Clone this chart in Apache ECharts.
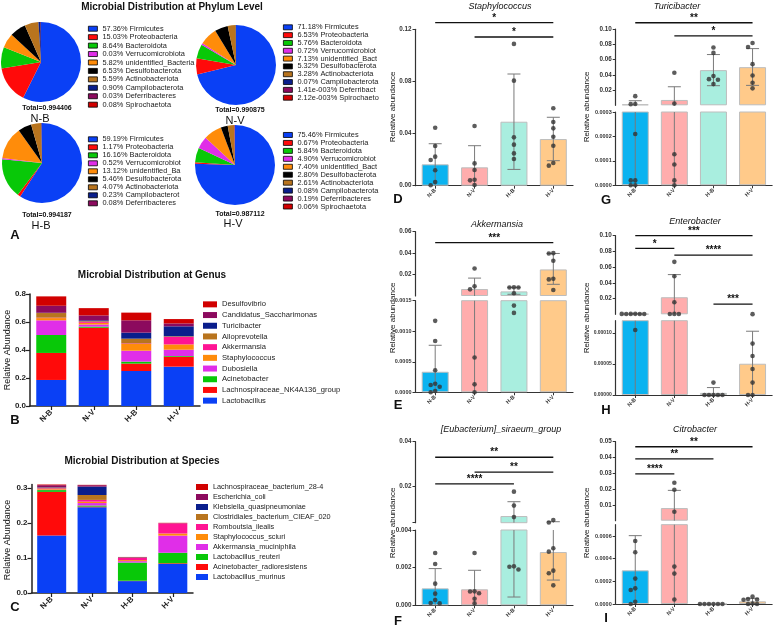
<!DOCTYPE html>
<html>
<head>
<meta charset="utf-8">
<script src="https://cdn.jsdelivr.net/npm/echarts@6/dist/echarts.min.js"></script>
<style>
  html, body { margin: 0; padding: 0; background: #fff; }
  #main { width: 779px; height: 627px; }
</style>
</head>
<body>
<div id="main"></div>
<script>
const FONT = '"Liberation Sans", Arial, sans-serif';
const groups = ['N-B', 'N-V', 'H-B', 'H-V'];

// ---- A: phylum level, percent of reads
const phyla = ['Firmicutes', 'Proteobacteria', 'Bacteroidota', 'Verrucomicrobiota', 'unidentified_Bacteria',
  'Desulfobacterota', 'Actinobacteriota', 'Campilobacterota', 'Deferribacteres', 'Spirochaetota'];
const phylumNB = [57.36, 15.03, 8.64, 0.03, 5.82, 6.53, 5.59, 0.90, 0.03, 0.08];
const phylumNV = [71.18, 6.53, 5.76, 0.72, 7.13, 5.32, 3.28, 0.07, 0.00141, 0.00212];
const phylumHB = [59.19, 1.17, 16.16, 0.52, 13.12, 5.46, 4.07, 0.23, 0.08];
const phylumHV = [75.46, 0.67, 5.84, 4.90, 7.40, 2.80, 2.61, 0.08, 0.19, 0.06];
const phylumTotals = ['0.994406', '0.990875', '0.994187', '0.987112'];

// ---- B: genus (stack order bottom -> top), values per group
const genera = ['Lactobacillus', 'Lachnospiraceae_NK4A136_group', 'Acinetobacter', 'Dubosiella', 'Staphylococcus',
  'Akkermansia', 'Alloprevotella', 'Turicibacter', 'Candidatus_Saccharimonas', 'Desulfovibrio'];
const genusStack = [
  [0.186, 0.257, 0.250, 0.281],
  [0.193, 0.302, 0.053, 0.071],
  [0.128, 0.008, 0.014, 0.005],
  [0.105, 0.015, 0.078, 0.045],
  [0.016, 0.012, 0.048, 0.038],
  [0.003, 0.008, 0.004, 0.054],
  [0.033, 0.004, 0.034, 0.004],
  [0.002, 0.006, 0.043, 0.071],
  [0.050, 0.035, 0.088, 0.021],
  [0.067, 0.052, 0.055, 0.031]
];

// ---- C: species (stack order bottom -> top)
const species = ['Lactobacillus_murinus', 'Acinetobacter_radioresistens', 'Lactobacillus_reuteri', 'Akkermansia_muciniphila',
  'Staphylococcus_sciuri', 'Romboutsia_ilealis', 'Clostridiales_bacterium_CIEAF_020', 'Klebsiella_quasipneumoniae',
  'Escherichia_coli', 'Lachnospiraceae_bacterium_28-4'];
const speciesStack = [
  [0.164, 0.245, 0.034, 0.083],
  [0.125, 0.002, 0.001, 0.002],
  [0.005, 0.003, 0.052, 0.030],
  [0.001, 0.007, 0.004, 0.049],
  [0.002, 0.004, 0.003, 0.006],
  [0.002, 0.005, 0.006, 0.029],
  [0.002, 0.014, 0.001, 0.000],
  [0.001, 0.024, 0.0005, 0.000],
  [0.006, 0.004, 0.001, 0.0005],
  [0.002, 0.001, 0.0005, 0.001]
];

// ---- D..I: single genera, mean / error bar ends / individual samples
const staphMean = [0.0164, 0.0141, 0.0491, 0.0358];
const staphHi = [0.0322, 0.0307, 0.0857, 0.0525];
const staphLo = [0, 0, 0.0125, 0.0192];
const staphDots = [
  [0.0445, 0.0305, 0.0223, 0.0197, 0.0118, 0.0028, 0.0004],
  [0.0458, 0.0171, 0.0120, 0.0046, 0.0041, 0.0005],
  [0.1088, 0.0806, 0.0371, 0.0315, 0.0248, 0.0205],
  [0.0594, 0.0489, 0.0440, 0.0376, 0.0307, 0.0174, 0.0154]
];
const staphSig = [[0, 3, 0.1251], [1, 3, 0.1141]];
const staphSigText = ['*', '*'];

const turiMean = [0.0013, 0.0070, 0.0461, 0.0500];
const turiHi = [0.0060, 0.0243, 0.0665, 0.0743];
const turiLo = [0, 0, 0.0257, 0.0261];
const turiDots = [
  [0.0120, 0.0018, 0.0015, 0.00021, 0.00002, 0.00002, 0, 0],
  [0.0426, 0.0022, 0.000127, 0.000085, 0.00002, 0],
  [0.0757, 0.0687, 0.0383, 0.0343, 0.0335, 0.0278],
  [0.0817, 0.0765, 0.0539, 0.0391, 0.0296, 0.0222]
];
const turiSig = [[0, 3, 0.1082], [1, 3, 0.0909]];
const turiSigText = ['**', '*'];

const akkMean = [0.000337, 0.0065, 0.0043, 0.0248];
const akkHi = [0.00077, 0.0167, 0.0081, 0.0397];
const akkLo = [0, 0, 0.0016, 0.0109];
const akkDots = [
  [0.00117, 0.00084, 0.00036, 0.00014, 0.00012, 0.00009, 0.00002, 0],
  [0.0257, 0.0090, 0.0062, 0.00057, 0.00013, 0],
  [0.0082, 0.0080, 0.0079, 0.0025, 0.00142, 0.0013],
  [0.0400, 0.0397, 0.0329, 0.0161, 0.0155, 0.0056]
];
const akkSig = [[0, 3, 0.0498]];
const akkSigText = ['***'];

const enteroMean = [0.0004, 0.0217, 0.0000034, 0.0000505];
const enteroHi = [0.0006, 0.0505, 0.000012, 0.000103];
const enteroLo = [0, 0, 0, 0];
const enteroDots = [
  [0.0006, 0.0005, 0.0004, 0.0004, 0.0003, 0.0005, 0.000105],
  [0.0667, 0.0484, 0.0153, 0.0005, 0.0004, 0.0003],
  [0.00002, 0, 0, 0, 0, 0],
  [0.0002, 0.000083, 0.000063, 0.000042, 0.00002, 0, 0]
];
const enteroSig = [[0, 3, 0.100], [0, 1, 0.084], [1, 3, 0.0754], [2, 3, 0.013]];
const enteroSigText = ['***', '*', '****', '***'];

const eubMean = [0.0009, 0.00085, 0.00696, 0.00283];
const eubHi = [0.00195, 0.00186, 0.01333, 0.00444];
const eubLo = [0, 0, 0.00044, 0.00134];
const eubDots = [
  [0.00278, 0.00219, 0.00115, 0.00062, 0.00028, 0.00012, 0.0001],
  [0.00278, 0.00074, 0.00073, 0.00064, 0.00035, 0.0001],
  [0.0178, 0.0116, 0.0065, 0.00207, 0.00205, 0.0019],
  [0.0052, 0.0041, 0.00303, 0.00285, 0.00184, 0.0017, 0.00106]
];
const eubSig = [[0, 3, 0.0331], [1, 3, 0.0265], [0, 2, 0.0213]];
const eubSigText = ['**', '**', '****'];

const citroMean = [0.000297, 0.0080, 0, 0.0000235];
const citroHi = [0.000603, 0.0192, 0, 0.00005];
const citroLo = [0, 0, 0, 0];
const citroDots = [
  [0.000556, 0.000456, 0.000224, 0.000138, 0.000124, 0.00002, 0],
  [0.0240, 0.0196, 0.0057, 0.00033, 0.000268, 0.00004],
  [0, 0, 0, 0, 0, 0],
  [0.000065, 0.000044, 0.00004, 0.000038, 0.000005, 0, 0]
];
const citroSig = [[0, 3, 0.0468], [0, 2, 0.0391], [0, 1, 0.0296]];
const citroSigText = ['**', '**', '****'];

// ---- styling
const phylumColors = ['#0A40F5', '#FF0A0A', '#08C808', '#E02EE8', '#FF8C0A', '#000000', '#B8741E', '#0A1E8C', '#8C0A5E', '#D10000'];
const stackColors = ['#0A40F5', '#FF0A0A', '#08C808', '#E02EE8', '#FF8C0A', '#FF1493', '#B8741E', '#0A1E8C', '#8C0A5E', '#D10000'];
const groupColors = ['#0BB3F0', '#FFADAD', '#A9EEDF', '#FFCA8A'];

const grids = [], xAxes = [], yAxes = [], series = [], legends = [], graphics = [];

function txt(x, y, text, font, opts) {
  graphics.push(Object.assign({
    type: 'text', x: x, y: y, silent: true,
    style: { text: text, font: font, fill: '#111', textAlign: 'center', textVerticalAlign: 'middle', align: 'center', verticalAlign: 'middle' }
  }, opts || {}));
}

function pctText(v) {
  if (v >= 0.01) return v.toFixed(2) + '%';
  const parts = v.toExponential(2).split('e');
  const e = +parts[1];
  return parts[0] + 'e' + (e < 0 ? '-' : '+') + String(Math.abs(e)).padStart(3, '0') + '%';
}

// ---- A: pies
const pies = [
  { vals: phylumNB, center: [41, 62], legend: [88, 24.5, 8.44], total: [47, 108], label: [40, 119], width: null },
  { vals: phylumNV, center: [236, 65], legend: [283, 23.4, 7.82], total: [240, 110], label: [235, 121], width: 83 },
  { vals: phylumHB, center: [42, 163], legend: [88, 135.3, 8.0], total: [47, 215], label: [41, 226], width: 81 },
  { vals: phylumHV, center: [235, 165], legend: [283, 131, 7.95], total: [240, 214], label: [233, 224], width: 83 }
];
pies.forEach((p, k) => {
  const names = phyla.slice(0, p.vals.length);
  series.push({
    type: 'pie', name: 'phylum-' + k, center: p.center, radius: 40, startAngle: 90, clockwise: true,
    silent: true, label: { show: false }, labelLine: { show: false },
    itemStyle: { borderWidth: 0 },
    data: names.map((n, i) => ({ name: n, value: p.vals[i], itemStyle: { color: phylumColors[i] } }))
  });
  const ts = { fontSize: 7.4, lineHeight: p.legend[2], color: '#222', fontFamily: FONT };
  if (p.width) Object.assign(ts, { width: p.width, overflow: 'truncate', ellipsis: '' });
  legends.push({
    orient: 'vertical', left: p.legend[0], top: p.legend[1], padding: 0, itemGap: 0,
    itemWidth: 9, itemHeight: 5, icon: 'rect', selectedMode: false,
    itemStyle: { borderColor: '#000', borderWidth: 0.8 },
    data: names, textStyle: ts,
    formatter: name => pctText(p.vals[names.indexOf(name)]) + ' ' + name
  });
  txt(p.total[0], p.total[1], 'Total=' + phylumTotals[k], 'bold 7px ' + FONT);
  txt(p.label[0], p.label[1], groups[k], '11px ' + FONT);
});

// ---- B / C stacked bars
function stackPanel(names, stack, colors, box, ymax, yint, dec, legendBox, fontSize, lh, stackName) {
  const gi = grids.length;
  grids.push({ left: box[0], top: box[1], width: box[2], height: box[3], outerBoundsMode: 'none' });
  xAxes.push({
    type: 'category', gridIndex: gi, data: groups,
    axisLine: { lineStyle: { color: '#222', width: 1.5 } },
    axisTick: { show: true, alignWithLabel: true, length: 4, lineStyle: { color: '#222', width: 1.2 } },
    axisLabel: { rotate: 45, fontSize: 8, fontWeight: 'bold', color: '#222', margin: 5 }
  });
  yAxes.push({
    type: 'value', gridIndex: gi, min: 0, max: ymax, interval: yint,
    axisLine: { show: true, lineStyle: { color: '#222', width: 1.5 } },
    axisTick: { show: true, length: 4, lineStyle: { color: '#222', width: 1.2 } },
    splitLine: { show: false },
    axisLabel: { fontSize: 8, fontWeight: 'bold', color: '#222', margin: 4, showMaxLabel: ymax === 0.8,
      formatter: v => v.toFixed(dec) }
  });
  names.forEach((n, k) => {
    series.push({
      type: 'bar', name: n, stack: stackName, xAxisIndex: gi, yAxisIndex: gi, barWidth: box[4],
      silent: true, data: stack[k], itemStyle: { color: colors[k] }
    });
  });
  legends.push({
    orient: 'vertical', left: legendBox[0], top: legendBox[1], padding: 0, itemGap: 0,
    itemWidth: legendBox[2], itemHeight: 6, icon: 'rect', selectedMode: false,
    itemStyle: { borderWidth: 0 },
    data: names.slice().reverse(),
    textStyle: { fontSize: fontSize, lineHeight: lh, color: '#222', fontFamily: FONT }
  });
}
stackPanel(genera, genusStack, stackColors, [30, 294, 170, 112, 30], 0.8, 0.2, 1, [203, 299, 14], 7.6, 10.7, 'genus');
stackPanel(species, speciesStack, stackColors, [31.5, 484.5, 161.5, 108.5, 29], 0.31, 0.1, 1, [196, 482, 12], 7.3, 10, 'species');

// ---- D..I: bar + sd + dots, some with a broken y axis (two stacked grids)
function swarm(values, lo, hi, hpx) {
  const placed = [];
  const steps = [0, -4.5, 4.5, -9, 9, -13.5, 13.5];
  return values.map(v => {
    const py = (v - lo) / (hi - lo) * hpx;
    let dx = 0;
    for (const c of steps) {
      if (!placed.some(q => Math.hypot(q[0] - c, q[1] - py) < 4.4)) { dx = c; break; }
    }
    placed.push([dx, py]);
    return dx;
  });
}

function barPanel(title, mean, hi, lo, dots, sig, sigText, L) {
  const segIdx = [];
  L.segs.forEach((s, si) => {
    const gi = grids.length;
    const isBottom = si === L.segs.length - 1;
    const isUpper = L.segs.length > 1 && si === 0;
    const lowerMax = L.segs.length > 1 ? L.segs[1].max : -Infinity;
    segIdx.push(gi);
    grids.push({ left: L.left, top: s.top, width: L.width, height: s.height, outerBoundsMode: 'none' });
    xAxes.push({
      type: 'category', gridIndex: gi, data: groups, show: isBottom,
      axisLine: { lineStyle: { color: '#333', width: 1.2 } },
      axisTick: { show: true, alignWithLabel: true, length: 3, lineStyle: { color: '#333' } },
      axisLabel: { rotate: 45, fontSize: 5.5, fontWeight: 'bold', color: '#333', margin: 4 }
    });
    const labelFont = s.dec >= 5 ? 5 : (s.dec === 4 ? 5.5 : 6.3);
    const ya = {
      type: 'value', gridIndex: gi, min: s.min, max: s.max,
      axisLine: { show: true, lineStyle: { color: '#333', width: 1.2 } },
      axisTick: { show: true, length: 3, lineStyle: { color: '#333' } },
      splitLine: { show: false },
      axisLabel: { fontSize: labelFont, fontWeight: 'bold', color: '#333', margin: 4,
        showMinLabel: !s.hideMin, showMaxLabel: !s.hideMax, formatter: v => v.toFixed(s.dec) }
    };
    if (s.labels) {
      ya.axisLabel.customValues = s.labels;
      ya.axisTick.customValues = [s.min].concat(s.labels);
    } else {
      ya.interval = s.interval;
    }
    yAxes.push(ya);

    // in the upper part of a broken axis, only means above the break are drawn
    series.push({
      type: 'bar', name: title + '-bar-' + si, xAxisIndex: gi, yAxisIndex: gi, barWidth: 27, silent: true, z: 2,
      data: mean.map(m => (isUpper && m <= lowerMax) ? '-' : m),
      itemStyle: { color: p => groupColors[p.dataIndex], borderColor: '#bdbdbd', borderWidth: 1 }
    });

    series.push({
      type: 'custom', name: title + '-err-' + si, xAxisIndex: gi, yAxisIndex: gi, silent: true, z: 3,
      encode: { x: 0, y: [1, 2] },
      data: mean.map((m, i) => [i, lo[i], hi[i]]),
      renderItem: (params, api) => {
        const i = api.value(0), a = api.value(1), b = api.value(2);
        if (b <= a || b < s.min || a > s.max) return;
        if (isUpper && b <= lowerMax) return;
        const x = api.coord([i, 0])[0];
        const yTop = api.coord([i, Math.min(b, s.max)])[1];
        const yBot = api.coord([i, Math.max(a, s.min)])[1];
        const st = { stroke: '#7a7a7a', lineWidth: 1 };
        const ch = [{ type: 'line', shape: { x1: x, y1: yTop, x2: x, y2: yBot }, style: st }];
        if (b <= s.max) ch.push({ type: 'line', shape: { x1: x - 6.5, y1: yTop, x2: x + 6.5, y2: yTop }, style: st });
        if (a > 0 && a >= s.min) ch.push({ type: 'line', shape: { x1: x - 6.5, y1: yBot, x2: x + 6.5, y2: yBot }, style: st });
        return { type: 'group', children: ch };
      }
    });

    const pts = [];
    dots.forEach((arr, g) => {
      const inSeg = arr.filter(v => isUpper ? v > lowerMax : (v >= s.min && v <= s.max));
      const off = swarm(inSeg, s.min, s.max, s.height);
      inSeg.forEach((v, k) => pts.push({ value: [g, v], symbolOffset: [off[k], 0] }));
    });
    series.push({
      type: 'scatter', name: title + '-dots-' + si, xAxisIndex: gi, yAxisIndex: gi, silent: true, z: 4, clip: false,
      symbolSize: 4.6, itemStyle: { color: '#333' }, data: pts
    });
  });

  series.push({
    type: 'custom', name: title + '-sig', xAxisIndex: segIdx[0], yAxisIndex: segIdx[0], silent: true, z: 5,
    encode: { x: [0, 1], y: 2 },
    data: sig,
    renderItem: (params, api) => {
      const a = api.coord([api.value(0), api.value(2)]);
      const b = api.coord([api.value(1), api.value(2)]);
      return { type: 'group', children: [
        { type: 'line', shape: { x1: a[0], y1: a[1], x2: b[0], y2: b[1] }, style: { stroke: '#111', lineWidth: 1.3 } },
        { type: 'text', x: (a[0] + b[0]) / 2, y: a[1] - 4.5,
          style: { text: sigText[params.dataIndex], fill: '#111', font: 'bold 10px ' + FONT,
            textAlign: 'center', textVerticalAlign: 'middle', align: 'center', verticalAlign: 'middle' } }
      ] };
    }
  });
}

const leftCol = { left: 415.5, width: 157.5 };
const rightCol = { left: 615.7, width: 156.4 };
barPanel('Staphylococcus', staphMean, staphHi, staphLo, staphDots, staphSig, staphSigText, Object.assign({
  segs: [{ top: 29.3, height: 156.4, min: 0, max: 0.12, interval: 0.04, dec: 2 }] }, leftCol));
barPanel('Turicibacter', turiMean, turiHi, turiLo, turiDots, turiSig, turiSigText, Object.assign({
  segs: [{ top: 29, height: 76.3, min: 0, max: 0.10, interval: 0.02, dec: 2, hideMin: true },
         { top: 112, height: 73.3, min: 0, max: 0.0003, interval: 0.0001, dec: 4 }] }, rightCol));
barPanel('Akkermansia', akkMean, akkHi, akkLo, akkDots, akkSig, akkSigText, Object.assign({
  segs: [{ top: 231.7, height: 64.3, min: 0, max: 0.06, interval: 0.02, dec: 2, hideMin: true },
         { top: 300.7, height: 91.6, min: 0, max: 0.0015, interval: 0.0005, dec: 4 }] }, leftCol));
barPanel('Enterobacter', enteroMean, enteroHi, enteroLo, enteroDots, enteroSig, enteroSigText, Object.assign({
  segs: [{ top: 235.7, height: 78.6, min: 0, max: 0.10, interval: 0.02, dec: 2, hideMin: true },
         { top: 320.7, height: 74.3, min: 0, max: 0.00012, interval: 0.00005, dec: 5, hideMax: true }] }, rightCol));
barPanel('[Eubacterium]_siraeum_group', eubMean, eubHi, eubLo, eubDots, eubSig, eubSigText, Object.assign({
  segs: [{ top: 441.7, height: 81, min: 0.004, max: 0.04, labels: [0.02, 0.04], dec: 2 },
         { top: 530, height: 75.3, min: 0, max: 0.004, interval: 0.002, dec: 3 }] }, leftCol));
barPanel('Citrobacter', citroMean, citroHi, citroLo, citroDots, citroSig, citroSigText, Object.assign({
  segs: [{ top: 441.7, height: 79, min: 0, max: 0.05, interval: 0.01, dec: 2, hideMin: true },
         { top: 524.65, height: 79.35, min: 0, max: 0.0007, interval: 0.0002, dec: 4, hideMax: true }] }, rightCol));

// ---- titles, axis names, panel letters
txt(172, 7, 'Microbial Distribution at Phylum Level', 'bold 10px ' + FONT);
txt(152, 275, 'Microbial Distribution at Genus', 'bold 10px ' + FONT);
txt(142, 461, 'Microbial Distribution at Species', 'bold 10px ' + FONT);
txt(500, 6, 'Staphylococcus', 'italic 9px ' + FONT);
txt(677, 6, 'Turicibacter', 'italic 9px ' + FONT);
txt(497, 224, 'Akkermansia', 'italic 9px ' + FONT);
txt(695, 221, 'Enterobacter', 'italic 9px ' + FONT);
txt(501, 429, '[Eubacterium]_siraeum_group', 'italic 9px ' + FONT);
txt(695, 429, 'Citrobacter', 'italic 9px ' + FONT);

[[8, 350], [8, 540]].forEach(p => txt(p[0], p[1], 'Relative Abundance', '9px ' + FONT, { rotation: Math.PI / 2 }));
[[393, 107], [587, 107], [393, 318], [587, 318], [393, 523], [587, 523]]
  .forEach(p => txt(p[0], p[1], 'Relative abundance', '8px ' + FONT, { rotation: Math.PI / 2 }));

[['A', 15, 235], ['B', 15, 420], ['C', 15, 607], ['D', 398, 199], ['G', 606, 200],
 ['E', 398, 405], ['H', 606, 410], ['F', 398, 621], ['I', 606, 618]]
  .forEach(l => txt(l[1], l[2], l[0], 'bold 13px ' + FONT));

const chart = echarts.init(document.getElementById('main'), null, { renderer: 'canvas' });
chart.setOption({
  animation: false,
  backgroundColor: '#fff',
  textStyle: { fontFamily: FONT },
  grid: grids,
  xAxis: xAxes,
  yAxis: yAxes,
  legend: legends,
  series: series,
  graphic: { elements: graphics }
});
</script>
</body>
</html>
